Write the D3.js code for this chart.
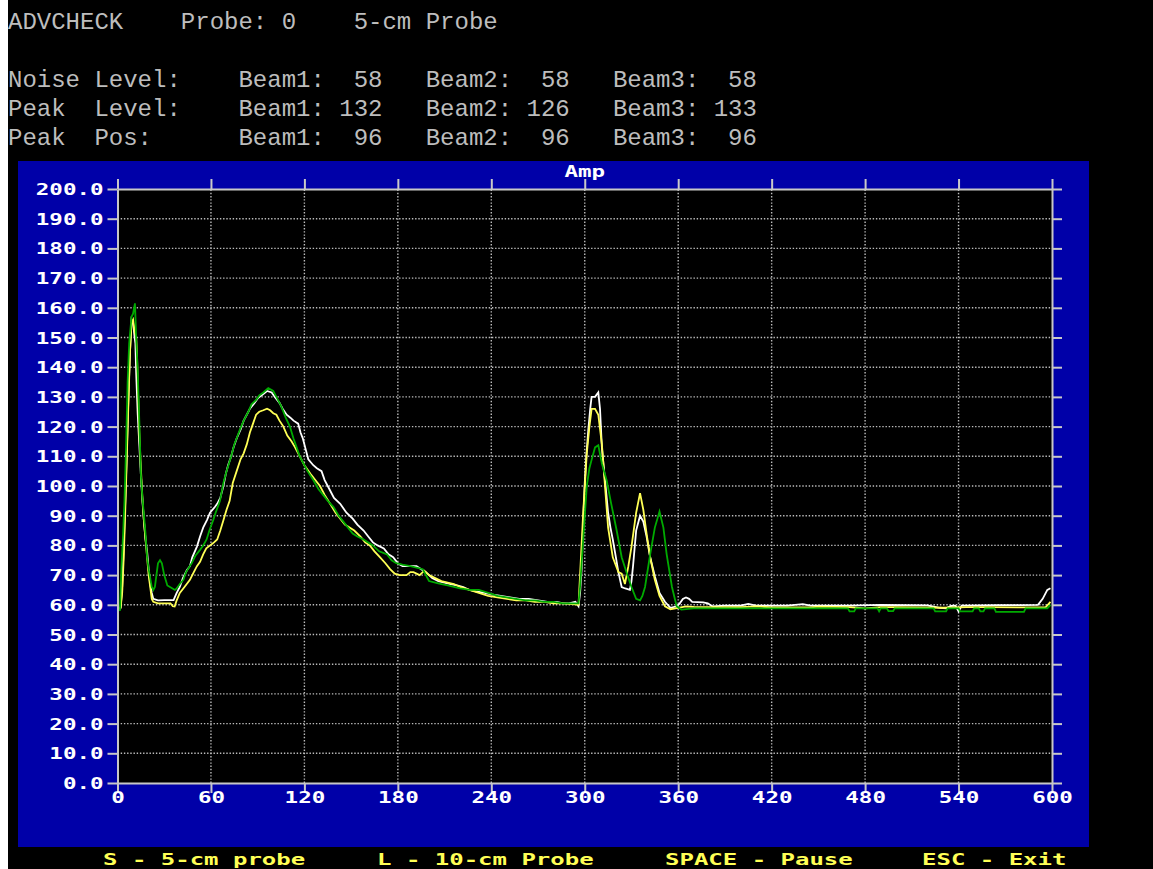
<!DOCTYPE html>
<html><head><meta charset="utf-8">
<script src="https://cdn.jsdelivr.net/npm/d3@7"></script>
<style>
html,body{margin:0;padding:0;background:#fff;}
svg{display:block;}
text{white-space:pre;}
</style></head><body>
<svg id="c" width="1153" height="869"></svg>
<script>
// ---- data ----
const headerTitle = "ADVCHECK";
const probeNo = 0;
const probeName = "5-cm Probe";
const beams = ["Beam1", "Beam2", "Beam3"];
const noiseLevel = [58, 58, 58];
const peakLevel = [132, 126, 133];
const peakPos = [96, 96, 96];
const chartTitle = "Amp";
const xTicks = [0, 60, 120, 180, 240, 300, 360, 420, 480, 540, 600];
const yTicks = [0, 10, 20, 30, 40, 50, 60, 70, 80, 90, 100, 110, 120, 130, 140, 150, 160, 170, 180, 190, 200];
const footerKeys = ["S - 5-cm probe", "L - 10-cm Probe", "SPACE - Pause", "ESC - Exit"];

// Beam1 (white)
const beam1 = [[0,58],[2,59],[3,66],[4,80],[5,95],[6,112],[7,130],[8,145],[9,156],[10,155],[11,150],[11.5,148],[12,138],[13,124],[14,114],[15,104],[16,95],[17,88],[18,82],[19,78],[20,72],[21,67],[22,64],[23,62],[26,61.5],[30,61.6],[34,61.6],[36,61.6],[38,64],[40,66],[42,69],[44.6,71.7],[46.5,73],[48,76],[51,79.6],[53,83],[55,86],[57.5,88.6],[59.4,91],[62.6,93],[64,94],[66,96],[68,100],[69.5,104],[71,107],[73,110],[74.5,113],[76.5,116],[79,119],[81,122],[83,124],[85,126],[88,128],[90,129.5],[93.6,131],[96,132],[99,131.5],[101,130],[104,128],[106,126],[108.6,124],[111,123],[113,122],[116,121],[117.5,118],[119,116],[121,112],[122.5,109],[125.7,107],[128,106],[131,105],[133,102],[136,99],[139,96],[143,94],[147,91],[151,89],[154,87],[158,85],[161,83],[164,81],[167,80],[171,79],[174,77],[177,76],[180,74],[183,73],[188,73],[192,73],[195,72],[198,71],[202,69],[206,68],[210,67.5],[214,67],[218,66.5],[222,66],[226,65],[230,64.5],[236,64],[240,63.5],[246,63],[252,62.5],[258,62],[264,62],[270,61.5],[276,61],[282,61],[286,60.5],[290,60.5],[294,61],[296,59.5],[297,64],[298,72],[299,88],[300,101],[301,110],[302.3,119],[303.5,126],[304.4,130],[306.6,130],[308.7,131.5],[309.8,126],[311,113],[313,102],[315,91],[316.5,86],[318,82],[320,76],[321.6,71],[323.7,66],[326,65.5],[329,65],[330,68],[331,73],[333,85],[335.5,90],[337.6,88],[339.7,83],[342,76],[345,69.6],[348,64],[351.5,61],[355,59],[359,59.5],[361,60.5],[363,62],[365,62.5],[367,62],[369,61],[376,60.8],[379,60.5],[382,59.5],[390,59.7],[400,59.7],[405,60.3],[410,59.7],[430,59.7],[440,60.2],[445,59.7],[470,59.7],[490,60],[520,59.8],[528,59],[532,58.8],[535,59.6],[538,59.7],[540,57.8],[542,59.7],[555,59.8],[565,59.9],[580,59.9],[591,60],[594,62],[597,65],[599,65.6]];

// Beam2 (yellow)
const beam2 = [[0,58],[2,59],[3,64],[4,76],[5,92],[6,110],[7,128],[8,145],[9,155],[10,156],[11,152],[12,150],[12.5,145],[13,135],[14,118],[15,106],[16,96],[17,88],[18,82],[19,76],[20,70],[21,66],[22,62],[23,61],[26,60.5],[30,60.5],[34,60.5],[35.5,59.5],[36.7,59.4],[38,61.5],[40,64],[43,66],[46.5,68.4],[49,71],[51,73],[53,74.5],[55,77],[57,79],[59.4,80],[62,81],[64,82],[66,85],[68,88.5],[70,92],[72,95],[74,101],[76.5,105],[79,109],[81,111],[83,114],[85,118],[87,121],[89,124],[91,125],[93.6,125.5],[96,126],[98,125.5],[100,124.5],[102,124],[104,122],[106.5,120],[109,117],[111.8,115],[114,113],[117,110],[120,107],[124,104],[127,102],[130,100],[133,97],[136.5,94],[140,91],[143,89],[146,87],[149,86],[152,85],[156,83],[159,81],[162,80],[165,78],[168.6,76],[172,74],[175,72],[178,70.5],[181,70],[185.6,70],[188,71],[190,71],[192,70.5],[194,70],[197,71.5],[200,70],[204,69],[208,68],[212,67.5],[216,67],[220,66],[226,65],[232,64],[238,63],[244,62.5],[250,62],[256,61.5],[262,61.5],[268,61],[274,61],[280,60.5],[286,60.5],[292,60.2],[296,60],[297,70],[299,91],[301.3,111],[303,120],[304.4,126],[306.6,126],[308.7,124],[311,114],[313,100],[315,86],[318,76],[321.6,71],[323.7,70.5],[325.8,67],[328,73],[330,79.5],[333,91],[335.5,97.6],[337.6,92],[339.7,84],[342,76],[345,68.4],[348,63],[351.5,59.5],[355,58.5],[360,59],[365,59.5],[370,59.3],[400,59.2],[410,59.5],[420,59.1],[445,59.1],[450,59.4],[470,59.2],[480,58.8],[490,59.2],[500,59.2],[530,59],[545,59.2],[560,59.2],[580,59.1],[596,59.2],[599,61]];

// Beam3 (green)
const beam3 = [[0,58],[1.6,58.2],[2.5,72],[3.7,85],[4.5,95],[5.5,113],[6.5,135],[7.5,148],[9,157],[10,158],[11.2,161.5],[12,150],[13,138],[14,122],[15,104],[16,96],[17,90],[18,84],[19,76],[20,72],[21,69],[22,66],[23,65],[24,66],[25,70],[26,74],[27.3,75],[28.5,74],[30,70],[32,66.5],[33.7,66],[36.9,65],[38,65.5],[40,67],[42.3,68.4],[44,71],[47.6,74],[50,76.5],[53,78.5],[55,80],[57.2,82],[59,85],[61.5,88.6],[63,91],[65.8,95],[68,101],[70,105],[73,110],[75,114],[78.6,119],[81,122],[84,125],[86,127.5],[89,129],[91,130.5],[93.6,131.5],[96.8,133],[100,132],[102,130],[105,127],[108,123],[110.7,120],[113,116],[115,113],[117,110],[119,108],[122,105],[125.7,102],[129,99],[132,97],[135,95],[138.6,93],[142,90],[145,88],[148,86],[151,84],[154,83],[158,82],[161,81],[164,80],[168,78],[173,77],[176,75],[179,74],[183,73.5],[188,73],[192,72.5],[196,72],[198,70],[200,68],[204,67.5],[208,67],[212,66.5],[216,66],[220,65.5],[226,65],[232,65],[238,64],[244,63],[250,62.5],[256,62],[262,61.5],[268,61.5],[274,61],[280,61],[286,60.5],[292,60.5],[296,60.5],[297,66],[299,82],[301.3,100],[303,106],[304.4,108.8],[306.6,113],[308.7,113.7],[311,107.6],[314,102],[317,94],[320.5,85],[323.7,76],[327,70.6],[330,66],[333,62],[335.5,61.5],[337,63],[338.7,66],[342,77],[345,86],[348,91.4],[350.5,86],[352.6,77],[356,66],[359,59.5],[362,58.4],[370,58.8],[400,58.8],[420,58.8],[440,58.8],[469,58.8],[470,57.8],[473,57.8],[474,58.8],[488,58.8],[489,57.8],[490,58.8],[494,58.8],[495,57.9],[498,57.9],[499,58.8],[524,58.8],[525,57.8],[532,57.8],[533,58.8],[540,58.8],[541,57.8],[549,57.8],[550,58.8],[553,58.8],[554,57.8],[556,57.8],[557,58.8],[563,58.8],[564,57.6],[582,57.6],[583,58.8],[597,58.8],[599,60]];

const series = [
  {name: "Beam1", data: beam1, color: "#ffffff"},
  {name: "Beam2", data: beam2, color: "#ffff55"},
  {name: "Beam3", data: beam3, color: "#00aa00"}
];

// ---- drawing ----
const svg = d3.select("#c");
svg.append("rect").attr("x", 0).attr("y", 0).attr("width", 1153).attr("height", 869).attr("fill", "#ffffff");
svg.append("rect").attr("x", 8).attr("y", 0).attr("width", 1145).attr("height", 869).attr("fill", "#000000");

// header (monospace grid, 14.4px per char)
const hdrFont = "'Liberation Mono', 'DejaVu Sans Mono', monospace";
const pad = (v, n) => String(v).padStart(n, " ");
const rows = [
  {t: `${headerTitle}    Probe: ${probeNo}    ${probeName}`, y: 29},
  {t: `Noise Level:    ` + beams.map((b, i) => `${b}: ${pad(noiseLevel[i], 3)}`).join("   "), y: 87},
  {t: `Peak  Level:    ` + beams.map((b, i) => `${b}: ${pad(peakLevel[i], 3)}`).join("   "), y: 116},
  {t: `Peak  Pos:      ` + beams.map((b, i) => `${b}: ${pad(peakPos[i], 3)}`).join("   "), y: 145}
];
svg.selectAll("text.hdr").data(rows).enter().append("text")
  .attr("class", "hdr")
  .attr("x", 8).attr("y", d => d.y)
  .attr("font-family", hdrFont).attr("font-size", 24)
  .attr("fill", "#bdbdbd")
  .text(d => d.t);

// blue panel
svg.append("rect").attr("x", 18).attr("y", 161).attr("width", 1071).attr("height", 686).attr("fill", "#0000a8");

const x = d3.scaleLinear().domain([0, 600]).range([117.5, 1052]);
const y = d3.scaleLinear().domain([0, 200]).range([783, 189]);

svg.append("rect").attr("x", x(0)).attr("y", y(200)).attr("width", x(600) - x(0)).attr("height", y(0) - y(200)).attr("fill", "#000");

// grid
const grid = svg.append("g").attr("stroke", "#bcbcbc").attr("stroke-width", 1.4).attr("stroke-dasharray", "1.4,1.8");
grid.selectAll("line.gy").data(yTicks.filter(v => v > 0 && v < 200)).enter().append("line")
  .attr("x1", x(0)).attr("x2", x(600)).attr("y1", d => y(d)).attr("y2", d => y(d));
grid.selectAll("line.gx").data(xTicks.filter(v => v > 0 && v < 600)).enter().append("line")
  .attr("y1", y(0)).attr("y2", y(200)).attr("x1", d => x(d)).attr("x2", d => x(d));

// lines
const line = d3.line().x(d => x(d[0])).y(d => y(d[1]));
svg.append("g").selectAll("path").data(series).enter().append("path")
  .attr("d", d => line(d.data))
  .attr("fill", "none").attr("stroke", d => d.color).attr("stroke-width", 1.8)
  .attr("stroke-linejoin", "miter");

// axes
const labFont = "'DejaVu Sans Mono', monospace";
const axisColor = "#c8c8c8";
function style(g) {
  g.select(".domain").attr("stroke", axisColor).attr("stroke-width", 2);
  g.selectAll(".tick line").attr("stroke", axisColor).attr("stroke-width", 2);
}
const gl = svg.append("g").attr("transform", `translate(${x(0)},0)`)
  .call(d3.axisLeft(y).tickValues(yTicks).tickSize(10).tickSizeOuter(0).tickFormat(d => d.toFixed(1)));
style(gl);
gl.selectAll(".tick text")
  .attr("font-family", labFont).attr("font-size", 15).attr("font-weight", "bold").attr("fill", "#ffffff")
  .attr("dy", null).attr("y", 5.5).attr("x", -14 / 1.5).attr("transform", "scale(1.5,1)");

const gb = svg.append("g").attr("transform", `translate(0,${y(0)})`)
  .call(d3.axisBottom(x).tickValues(xTicks).tickSize(10).tickSizeOuter(0).tickFormat(d3.format("d")));
style(gb);
gb.selectAll(".tick text")
  .attr("font-family", labFont).attr("font-size", 15).attr("font-weight", "bold").attr("fill", "#ffffff")
  .attr("dy", null).attr("y", 20.5).attr("transform", "scale(1.5,1)");

const gr = svg.append("g").attr("transform", `translate(${x(600)},0)`)
  .call(d3.axisRight(y).tickValues(yTicks).tickSize(10).tickSizeOuter(0).tickFormat(""));
style(gr);
const gt = svg.append("g").attr("transform", `translate(0,${y(200)})`)
  .call(d3.axisTop(x).tickValues(xTicks).tickSize(10).tickSizeOuter(0).tickFormat(""));
style(gt);
svg.selectAll(".domain").attr("fill", "none");
svg.selectAll("g.tick text").attr("font-family", labFont);

// title
svg.append("text").attr("transform", `translate(${(x(0) + x(600)) / 2},177) scale(1.5,1)`)
  .attr("text-anchor", "middle").attr("font-family", labFont).attr("font-size", 15)
  .attr("font-weight", "bold").attr("fill", "#ffffff").text(chartTitle);

// footer
const footX = [103, 377, 665, 922];
svg.selectAll("text.foot").data(footerKeys).enter().append("text")
  .attr("class", "foot")
  .attr("transform", (d, i) => `translate(${footX[i]},865) scale(1.6,1)`)
  .attr("font-family", labFont).attr("font-size", 15).attr("font-weight", "bold")
  .attr("fill", "#ffff55").text(d => d);
</script>
</body></html>
